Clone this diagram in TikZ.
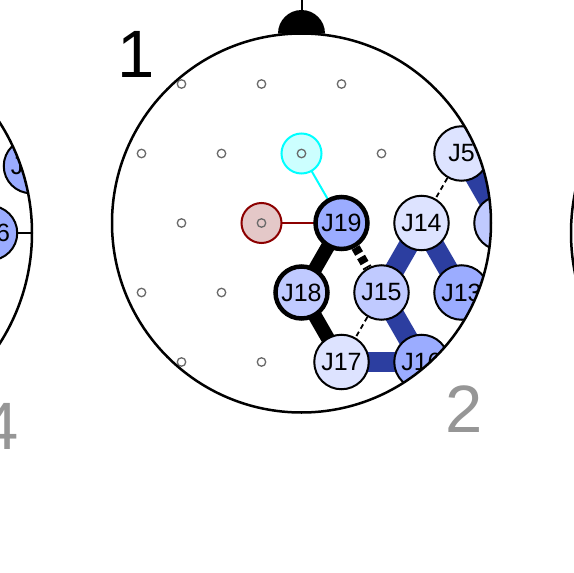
\documentclass[tikz,border=0pt]{standalone}
\usepackage{fontspec}
\setmainfont{Liberation Sans}
\definecolor{edgeblue}{RGB}{44,62,160}
\definecolor{nmid}{RGB}{155,172,255}
\definecolor{nlight}{RGB}{192,202,255}
\definecolor{npale}{RGB}{221,227,255}
\definecolor{cyanline}{RGB}{0,255,255}
\definecolor{cyanfill}{RGB}{204,255,255}
\definecolor{redfill}{RGB}{228,200,200}
\definecolor{redline}{RGB}{140,0,0}
\definecolor{labelgray}{RGB}{150,150,150}
\definecolor{dotgray}{RGB}{105,105,105}
\pgfdeclarelayer{bg}
\pgfsetlayers{bg,main}
\begin{document}
\begin{tikzpicture}[x=1pt,y=-1pt,
  jnode/.style={circle, draw=black, line width=2pt, minimum size=54.5pt, inner sep=0pt, font=\fontsize{25}{25}\selectfont},
  jbold/.style={jnode, line width=4.5pt, minimum size=52pt},
  refnode/.style={circle, minimum size=40pt, inner sep=0pt, line width=2pt},
  elec/.style={circle, draw=dotgray, line width=1.3pt, minimum size=8.5pt, inner sep=0pt},
  blueedge/.style={draw=edgeblue, line width=20pt},
  blackedge/.style={draw=black, line width=14pt},
  bolddash/.style={draw=black, line width=9pt, dash pattern=on 7pt off 4pt},
  thindash/.style={draw=black, line width=1.8pt, dash pattern=on 5pt off 3.5pt},
  headline/.style={draw=black, line width=2.5pt},
  biglabel/.style={font=\fontsize{67}{67}\selectfont, inner sep=0pt}]
\useasboundingbox (0,0) rectangle (574,573);

% ---------- main head ----------
\coordinate (head) at (301.5,223);
\fill (301.5,33.5) ++(-23.5pt,0) arc[start angle=180, end angle=0, radius=23.5pt];
\draw[line width=2pt] (301.5,12) -- (301.5,0);

\begin{scope}
\clip (head) circle[radius=189.5pt];
% electrodes
\foreach \x/\y in {181.5/84,261.5/84,341.5/84,
  141.5/153.5,221.5/153.5,381.5/153.5,
  181.5/223,
  141.5/292.5,221.5/292.5,
  181.5/362,261.5/362}{
  \node[elec] at (\x,\y) {};
}
% nodes
\node[refnode, draw=cyanline, fill=cyanfill] (cref) at (301.5,153.5) {};
\node[refnode, draw=redline, fill=redfill] (rref) at (261.5,223) {};
\node[elec] (ce) at (cref.center) {};
\node[elec] (re) at (rref.center) {};
\node[jbold, fill=nmid] (J19) at (341.5,223) {J19};
\node[jnode, fill=npale] (J14) at (421.5,223) {J14};
\node[jbold, fill=nlight] (J18) at (301.5,292.5) {J18};
\node[jnode, fill=nlight] (J15) at (381.5,292.5) {J15};
\node[jnode, fill=nmid] (J13) at (461.5,292.5) {J13};
\node[jnode, fill=npale] (J17) at (341.5,362) {J17};
\node[jnode, fill=nmid] (J16) at (421.5,362) {J16};
\node[jnode, fill=npale] (J5) at (461.5,153.5) {J5};
\node[jnode, fill=nlight] (JR) at (501.5,223) {};
\end{scope}

\begin{pgfonlayer}{bg}
\begin{scope}
\clip (head) circle[radius=189.5pt];
\draw[blueedge] (J14.center) -- (J15.center);
\draw[blueedge] (J14.center) -- (J13.center);
\draw[blueedge] (J15.center) -- (J16.center);
\draw[blueedge] (J17.center) -- (J16.center);
\draw[blueedge] (J5.center) -- (JR.center);
\draw[blackedge] (J19.center) -- (J18.center);
\draw[blackedge] (J18.center) -- (J17.center);
\draw[bolddash] (J19) -- (J15);
\draw[thindash] (J5) -- (J14);
\draw[thindash] (J15) -- (J17);
\draw[draw=redline, line width=2pt] (rref.center) -- (J19.center);
\draw[draw=cyanline, line width=2pt] (cref.center) -- (J19.center);
\end{scope}
\end{pgfonlayer}

\draw[headline] (head) circle[radius=189.5pt];

% ---------- left head (partial) ----------
\coordinate (lhead) at (-173,233);
\coordinate (Lfar) at (-12,95);
\coordinate (Lout) at (70,233);
\begin{scope}
\clip (lhead) circle[radius=205pt];
\node[jnode, fill=nmid] (L16) at (-10,233) {J16};
\node[jnode, fill=nmid] (LJ) at (31,166) {J15};
\end{scope}
\begin{pgfonlayer}{bg}
\begin{scope}
\clip (lhead) circle[radius=205pt];
\draw[draw=edgeblue, line width=7pt] (LJ.center) -- (Lfar);
\draw[line width=2pt] (L16.center) -- (Lout);
\end{scope}
\end{pgfonlayer}
\draw[headline] (lhead) circle[radius=205pt];

% ---------- right head (partial) ----------
\coordinate (rhead) at (776,233);
\draw[headline] (rhead) circle[radius=205pt];

% ---------- labels ----------
\node[biglabel, text=black] (lab1) at (136.5,54) {1};
\node[biglabel, text=labelgray] (lab2) at (464,409) {2};
\node[biglabel, text=labelgray] (lab4) at (0,426) {4};
\end{tikzpicture}
\end{document}
